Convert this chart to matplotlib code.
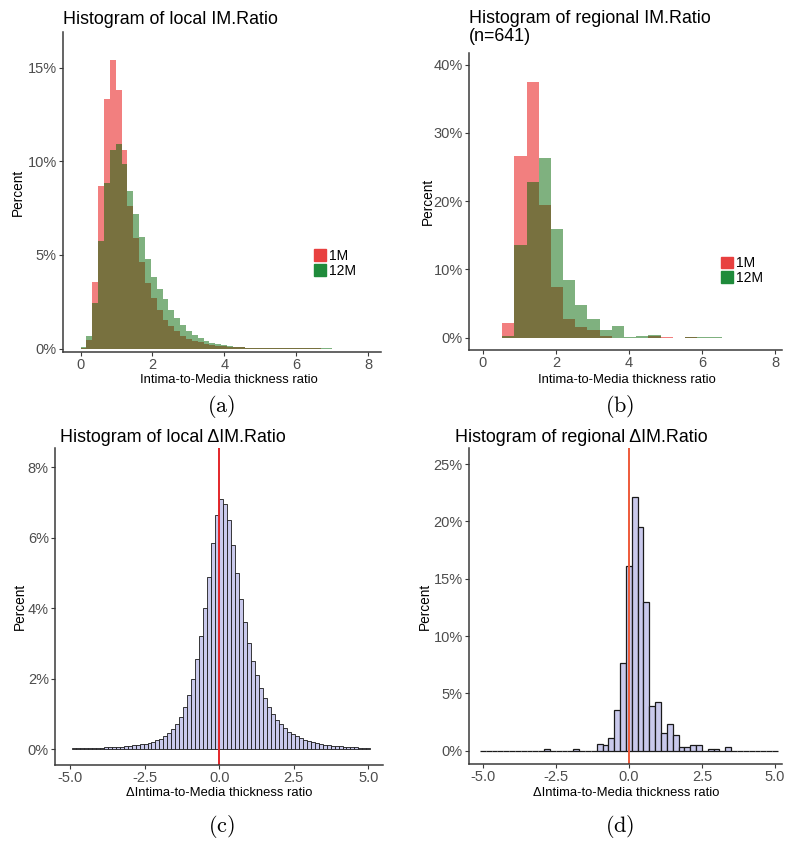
import matplotlib
matplotlib.use('Agg')
import matplotlib.pyplot as plt, numpy as np
from matplotlib.patches import Patch

plt.rcParams['font.family'] = ['Liberation Sans', 'DejaVu Sans']
plt.rcParams['mathtext.fontset'] = 'cm'

W, H = 800, 843

# (a) local IM.Ratio, percent per bin (bin width ~0.163 starting at 0)
a_red = [0.05, 0.45, 3.55, 8.7, 13.3, 15.4, 13.8, 10.6, 7.6, 5.9, 4.6, 3.5, 2.7, 2.05,
         1.55, 1.2, 0.92, 0.7, 0.54, 0.42, 0.33, 0.26, 0.2, 0.16, 0.13, 0.1, 0.08, 0.065,
         0.05, 0.04, 0.035, 0.03, 0.025, 0.02, 0.018, 0.015, 0.012, 0.01, 0.01, 0.008,
         0.007, 0.006, 0.005, 0.005, 0.004, 0.004, 0.003, 0.003, 0.003]
a_green = [0.1, 0.65, 2.44, 5.74, 8.83, 10.6, 10.9, 9.85, 8.4, 7.17, 5.96, 4.81, 3.83, 3.19,
           2.63, 2.04, 1.61, 1.24, 0.96, 0.72, 0.56, 0.43, 0.31, 0.24, 0.19, 0.13, 0.09, 0.07,
           0.06, 0.05, 0.045, 0.04, 0.035, 0.03, 0.025, 0.02, 0.018, 0.015, 0.012, 0.01,
           0.009, 0.008, 0.007, 0.006, 0.005, 0.004, 0.004, 0.003, 0.003]

# (b) regional IM.Ratio, counts per bin (n=641, bin width 1/3 starting at 0.53)
n_reg = 641
b_red = [14, 171, 240, 125, 48, 18, 10, 7, 2, 0, 0, 0, 2, 1, 0, 1, 0, 0]
b_green = [2, 87, 146, 169, 102, 54, 31, 18, 7, 11, 1, 2, 3, 0, 0, 1, 1, 1]

# (c) local delta IM.Ratio, percent per bin (75 bins, left to right)
c_vals = [0.02, 0.022, 0.025, 0.028, 0.032, 0.036, 0.04, 0.045, 0.05, 0.055, 0.06, 0.068,
          0.075, 0.085, 0.095, 0.105, 0.12, 0.135, 0.155, 0.18, 0.21, 0.25, 0.3, 0.36, 0.45,
          0.56, 0.72, 0.92, 1.2, 1.55, 2.0, 2.55, 3.2, 4.0, 4.9, 5.85, 6.65,
          7.1, 6.95, 6.5, 5.8, 5.0, 4.25, 3.6, 3.0, 2.5, 2.1, 1.75, 1.45, 1.2, 1.0, 0.84,
          0.7, 0.59, 0.5, 0.42, 0.36, 0.31, 0.27, 0.23, 0.2, 0.17, 0.15, 0.13, 0.115, 0.1,
          0.09, 0.08, 0.07, 0.062, 0.055, 0.05, 0.045, 0.04, 0.035]

# (d) regional delta IM.Ratio, bin centres and counts (bin width 0.2)
d_centers = [-2.8, -1.8, -1.0, -0.8, -0.6, -0.4, -0.2, 0.0, 0.2, 0.4, 0.6, 0.8, 1.0, 1.2,
             1.4, 1.6, 1.8, 2.0, 2.2, 2.4, 2.8, 3.0, 3.4]
d_counts = [1, 1, 4, 3, 7, 23, 49, 103, 142, 125, 83, 25, 27, 10, 15, 9, 2, 2, 3, 3, 1, 1, 2]

groups = ['1M', '12M']
ratio_ticks = [0, 2, 4, 6, 8]
delta_ticks = [-5.0, -2.5, 0.0, 2.5, 5.0]
delta_labels = ['-5.0', '-2.5', '0.0', '2.5', '5.0']

red, green = '#E60000', '#006400'
lav = '#C9C9EC'
grey = '#4D4D4D'


def px_axes(l, t, r, b):
    return fig.add_axes([l / W, 1 - b / H, (r - l) / W, (b - t) / H])


def style(ax):
    for s in ['top', 'right']:
        ax.spines[s].set_visible(False)
    for s in ['left', 'bottom']:
        ax.spines[s].set_color('#3a3a3a')
        ax.spines[s].set_linewidth(1.1)
    ax.tick_params(color='#3a3a3a', length=3, width=0.8, labelsize=10.5,
                   labelcolor=grey, pad=1.5)
    ax.yaxis.set_major_formatter(plt.FuncFormatter(lambda v, p: f'{v:.0f}%'))


def txt(x, y, s, **kw):
    fig.text(x / W, 1 - y / H, s, **kw)


fig = plt.figure(figsize=(W / 100, H / 100), dpi=100)

# ---- (a)
ax = px_axes(63, 32, 381, 352)
edges = np.arange(len(a_red) + 1) * 0.163
mids = (edges[:-1] + edges[1:]) / 2
ax.hist(mids, bins=edges, weights=a_red, color=red, alpha=0.5)
ax.hist(mids, bins=edges, weights=a_green, color=green, alpha=0.5)
ax.set_xlim(-0.49, 8.36)
ax.set_ylim(-0.18, 16.9)
ax.set_xticks(ratio_ticks)
ax.set_yticks([0, 5, 10, 15])
style(ax)
ax.legend([Patch(color='#E8403F'), Patch(color='#1F8B3B')], groups, loc='upper left',
          bbox_to_anchor=(0.789, 0.322), frameon=False, borderpad=0, borderaxespad=0,
          handlelength=0.9, handleheight=0.9, handletextpad=0.2, labelspacing=0.05,
          fontsize=10)
txt(63, 24, 'Histogram of local IM.Ratio', fontsize=12.9, va='baseline')
txt(18, 192, 'Percent', fontsize=9.8, rotation=90, ha='center', va='center')
txt(229, 380, 'Intima-to-Media thickness ratio', fontsize=9.4, ha='center', va='center')
txt(221, 407, r'$\mathrm{(a)}$', fontsize=16, ha='center', va='center')

# ---- (b)
ax = px_axes(469, 53, 782, 350)
edges = 0.53 + np.arange(len(b_red) + 1) / 3
mids = (edges[:-1] + edges[1:]) / 2
ax.hist(mids, bins=edges, weights=np.array(b_red) / n_reg * 100, color=red, alpha=0.5)
ax.hist(mids, bins=edges, weights=np.array(b_green) / n_reg * 100, color=green, alpha=0.5)
ax.set_xlim(-0.375, 8.18)
ax.set_ylim(-1.8, 41.7)
ax.set_xticks(ratio_ticks)
ax.set_yticks([0, 10, 20, 30, 40])
style(ax)
ax.legend([Patch(color='#E8403F'), Patch(color='#1F8B3B')], groups, loc='upper left',
          bbox_to_anchor=(0.805, 0.316), frameon=False, borderpad=0, borderaxespad=0,
          handlelength=0.9, handleheight=0.9, handletextpad=0.2, labelspacing=0.05,
          fontsize=10)
txt(469, 23, 'Histogram of regional IM.Ratio', fontsize=12.9, va='baseline')
txt(469, 41, f'(n={n_reg})', fontsize=12.9, va='baseline')
txt(428, 201, 'Percent', fontsize=9.8, rotation=90, ha='center', va='center')
txt(627, 380, 'Intima-to-Media thickness ratio', fontsize=9.4, ha='center', va='center')
txt(620, 407, r'$\mathrm{(b)}$', fontsize=16, ha='center', va='center')

# ---- (c)
ax = px_axes(55, 448, 383, 765)
edges = np.arange(-37, 39) * 10 / 75
mids = (edges[:-1] + edges[1:]) / 2
ax.hist(mids, bins=edges, weights=c_vals, color=lav, edgecolor='#1a1a1a', linewidth=0.6)
ax.axvline(0, color='#E3262A', lw=1.4)
ax.set_xlim(-5.5, 5.49)
ax.set_ylim(-0.45, 8.55)
ax.set_xticks(delta_ticks)
ax.set_xticklabels(delta_labels)
ax.set_yticks([0, 2, 4, 6, 8])
style(ax)
txt(60, 442, 'Histogram of local \u0394IM.Ratio', fontsize=12.9, va='baseline')
txt(20, 606, 'Percent', fontsize=9.8, rotation=90, ha='center', va='center')
txt(219, 793, '\u0394Intima-to-Media thickness ratio', fontsize=9.4, ha='center', va='center')
txt(221, 826, r'$\mathrm{(c)}$', fontsize=16, ha='center', va='center')

# ---- (d)
ax = px_axes(469, 448, 782, 764)
edges = np.arange(-5.1, 5.11, 0.2)
ax.hist(d_centers, bins=edges, weights=np.array(d_counts) / n_reg * 100, color=lav,
        edgecolor='#1a1a1a', linewidth=0.9)
ax.axvline(0, color='#EE5A3A', lw=1.4)
ax.set_xlim(-5.47, 5.24)
ax.set_ylim(-1.16, 26.4)
ax.set_xticks(delta_ticks)
ax.set_xticklabels(delta_labels)
ax.set_yticks([0, 5, 10, 15, 20, 25])
style(ax)
txt(455, 442, 'Histogram of regional \u0394IM.Ratio', fontsize=12.9, va='baseline')
txt(425, 606, 'Percent', fontsize=9.8, rotation=90, ha='center', va='center')
txt(626, 793, '\u0394Intima-to-Media thickness ratio', fontsize=9.4, ha='center', va='center')
txt(620, 826, r'$\mathrm{(d)}$', fontsize=16, ha='center', va='center')

fig.savefig('out.png', dpi=100)
